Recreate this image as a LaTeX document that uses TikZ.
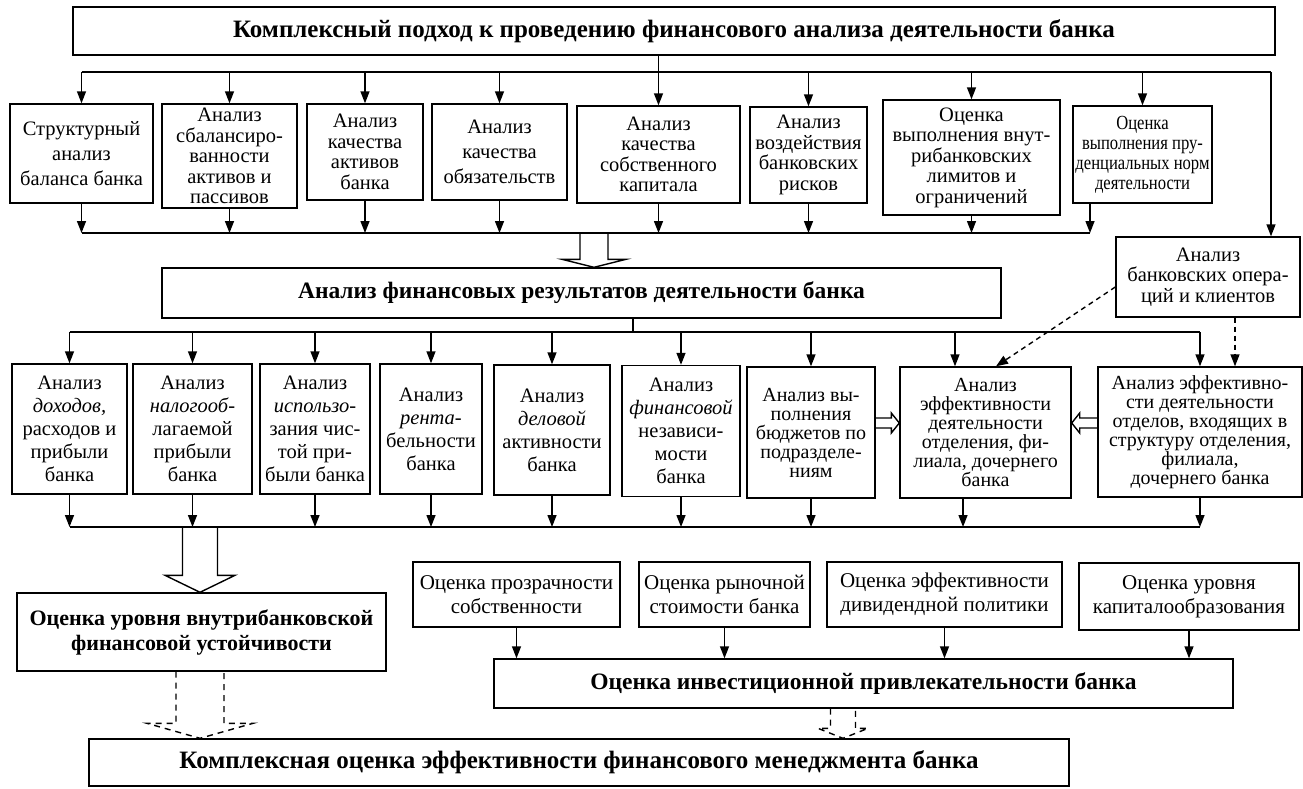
\documentclass[tikz,border=0pt]{standalone}
\usepackage{fontspec}
\setmainfont{Liberation Serif}
\newfontfamily\narrowserif[FakeStretch=0.83]{Liberation Serif}
\usetikzlibrary{arrows.meta, positioning, calc}

% hollow arrow pointing down: start, tip, shaft half width, head half width, head length
\newcommand{\fatdown}[6][]{%
  \draw[#1] ($(#2)+(-#4,0)$) -- ($(#3)+(-#4,-#6)$) -- ($(#3)+(-#5,-#6)$) -- (#3)
    -- ($(#3)+(#5,-#6)$) -- ($(#3)+(#4,-#6)$) -- ($(#2)+(#4,0)$);}
% hollow arrow sideways: start, tip, shaft half height, head half height, head base offset
\newcommand{\fatside}[6][]{%
  \draw[#1] ($(#2)+(0,-#4)$) -- ($(#3)+(#6,-#4)$) -- ($(#3)+(#6,-#5)$) -- (#3)
    -- ($(#3)+(#6,#5)$) -- ($(#3)+(#6,#4)$) -- ($(#2)+(0,#4)$);}

\begin{document}
\begin{tikzpicture}[x=1pt, y=-1pt,
  box/.style={draw, line width=1.4pt, align=center, inner sep=2pt,
    font=\fontsize{20.5}{20.5}\selectfont},
  loosebox/.style={box, font=\fontsize{20.5}{25}\selectfont},
  widebox/.style={box, font=\fontsize{20.5}{23}\selectfont},
  tightbox/.style={box, font=\fontsize{20}{19}\selectfont},
  lowbox/.style={box, font=\fontsize{21}{24}\selectfont},
  headbox/.style={box, font=\fontsize{23.5}{25}\selectfont\bfseries},
  link/.style={line width=1.4pt},
  arr/.style={line width=1.4pt, -{Triangle[length=12pt, width=9pt]}},
  dashlink/.style={arr, dash pattern=on 5pt off 4pt},
  fat/.style={line width=1.4pt},
  fatdash/.style={fat, dash pattern=on 6pt off 5pt}]

\useasboundingbox (0,0) rectangle (1303,788);

% Title box
\node[headbox, font=\fontsize{25}{27}\selectfont\bfseries, minimum width=1202, minimum height=48] (top) at (674,31)
  {Комплексный подход к проведению финансового анализа деятельности банка};

% First row of analyses
\node[loosebox, minimum width=143, minimum height=99] (s1) at (81.5,153.5)
  {Структурный\\анализ\\баланса банка};
\node[box, minimum width=135, minimum height=104] (s2) at (229.5,156)
  {Анализ\\сбалансиро-\\ванности\\активов и\\пассивов};
\node[box, minimum width=116, minimum height=96] (s3) at (365,152)
  {Анализ\\качества\\активов\\банка};
\node[loosebox, minimum width=135, minimum height=96] (s4) at (499.5,152)
  {Анализ\\качества\\обязательств};
\node[box, minimum width=163, minimum height=97] (s5) at (658.5,154.5)
  {Анализ\\качества\\собственного\\капитала};
\node[box, minimum width=117, minimum height=96] (s6) at (808.5,155)
  {Анализ\\воздействия\\банковских\\рисков};
\node[box, minimum width=177, minimum height=115] (s7) at (971.5,157.5)
  {Оценка\\выполнения внут-\\рибанковских\\лимитов и\\ограничений};
\node[box, font=\narrowserif\fontsize{20}{20}\selectfont, inner sep=1pt, minimum width=139, minimum height=97] (s8) at (1142.5,154.5)
  {Оценка\\выполнения пру-\\денциальных норм\\деятельности};

\node[box, minimum width=184, minimum height=80] (bank) at (1208,277)
  {Анализ\\банковских опера-\\ций и клиентов};

% Financial results
\node[headbox, minimum width=839, minimum height=50] (fin) at (581.5,293)
  {Анализ финансовых результатов деятельности банка};

% Second row of analyses
\node[widebox, minimum width=115, minimum height=130] (a1) at (69.5,429)
  {Анализ\\\textit{доходов,}\\расходов и\\прибыли\\банка};
\node[widebox, minimum width=119, minimum height=130] (a2) at (192.5,429)
  {Анализ\\\textit{налогооб-}\\лагаемой\\прибыли\\банка};
\node[widebox, minimum width=110, minimum height=130] (a3) at (315,429)
  {Анализ\\\textit{использо-}\\зания чис-\\той при-\\были банка};
\node[widebox, minimum width=102, minimum height=130] (a4) at (431,429)
  {Анализ\\\textit{рента-}\\бельности\\банка};
\node[widebox, minimum width=116, minimum height=130] (a5) at (552,430)
  {Анализ\\\textit{деловой}\\активности\\банка};
\node[widebox, minimum width=118, minimum height=131] (a6) at (681,431)
  {Анализ\\\textit{финансовой}\\независи-\\мости\\банка};
\node[tightbox, minimum width=128, minimum height=131] (a7) at (811,432.5)
  {Анализ вы-\\полнения\\бюджетов по\\подразделе-\\ниям};
\node[tightbox, minimum width=171, minimum height=131] (a8) at (985.5,432.5)
  {Анализ\\эффективности\\деятельности\\отделения, фи-\\лиала, дочернего\\банка};
\node[tightbox, minimum width=204, minimum height=130] (a9) at (1200,432)
  {Анализ эффективно-\\сти деятельности\\отделов, входящих в\\структуру отделения,\\филиала,\\дочернего банка};

% Stability, investment and final assessment
\node[headbox, font=\fontsize{22}{25}\selectfont\bfseries, minimum width=369, minimum height=78] (stab) at (201.5,632)
  {Оценка уровня внутрибанковской\\финансовой устойчивости};
\node[lowbox, minimum width=207, minimum height=65] (r1) at (516.5,594.5)
  {Оценка прозрачности\\собственности};
\node[lowbox, minimum width=171, minimum height=65] (r2) at (724.5,594.5)
  {Оценка рыночной\\стоимости банка};
\node[lowbox, minimum width=235, minimum height=65] (r3) at (944.5,594.5)
  {Оценка эффективности\\дивидендной политики};
\node[lowbox, minimum width=220, minimum height=67] (r4) at (1189,596.5)
  {Оценка уровня\\капиталообразования};
\node[headbox, minimum width=739, minimum height=49] (invest) at (863.5,683.5)
  {Оценка инвестиционной привлекательности банка};
\node[headbox, font=\fontsize{25}{27}\selectfont\bfseries, minimum width=980, minimum height=47] (final) at (579,762.5)
  {Комплексная оценка эффективности финансового менеджмента банка};

% bus levels and special drop points
\coordinate (busA) at (0,72);
\coordinate (busB) at (0,233);
\coordinate (busC) at (0,332);
\coordinate (busD) at (0,527);
\coordinate (busAe) at (1271,72);
\coordinate (s8foot) at (1090,0);
\coordinate (finstem) at (633,0);
\coordinate (a8top) at (955,0);
\coordinate (a8foot) at (963,0);
\coordinate (a8dash) at (996,0);
\coordinate (a9dash) at (1235,0);
\coordinate (fa1) at (594,0);
\coordinate (fa2) at (200,0);
\coordinate (fa4) at (843,0);

% top bus
\draw[link] (top.south -| s5.north) -- (s5.north |- busA);
\draw[link] (s1.north |- busA) -- (busAe);
\draw[arr] (busAe) -- (busAe |- bank.north);
\foreach \i in {1,...,8}
  \draw[arr] (s\i.north |- busA) -- (s\i.north);

% bus under first row
\draw[link] (s1.south |- busB) -- (s8foot |- busB);
\foreach \i in {1,...,7}
  \draw[arr] (s\i.south) -- (s\i.south |- busB);
\draw[arr] (s8foot |- s8.south) -- (s8foot |- busB);
\fatdown[fat]{fa1 |- busB}{fa1 |- fin.north}{14}{32}{8}

% bus over second row
\draw[link] (finstem |- fin.south) -- (finstem |- busC);
\draw[link] (a1.north |- busC) -- (a9.north |- busC);
\foreach \i in {1,...,7,9}
  \draw[arr] (a\i.north |- busC) -- (a\i.north);
\draw[arr] (a8top |- busC) -- (a8top |- a8.north);
\draw[dashlink] ($(bank.west)+(0,10)$) -- (a8dash |- a8.north);
\draw[dashlink] (a9dash |- bank.south) -- (a9dash |- a9.north);
\fatside[fat]{a7.east |- 0,423}{a8.west |- 0,423}{5}{10}{-8}
\fatside[fat]{a9.west |- 0,423}{a8.east |- 0,423}{5}{10}{8}

% bus under second row
\draw[link] (a1.south |- busD) -- (a9.south |- busD);
\foreach \i in {1,...,7,9}
  \draw[arr] (a\i.south) -- (a\i.south |- busD);
\draw[arr] (a8foot |- a8.south) -- (a8foot |- busD);
\fatdown[fat]{fa2 |- busD}{fa2 |- stab.north}{17.5}{35}{17}

% investment attractiveness
\foreach \i in {1,...,4}
  \draw[arr] (r\i.south) -- (r\i.south |- invest.north);

% to the final assessment
\fatdown[fatdash]{fa2 |- stab.south}{fa2 |- final.north}{24}{53}{15}
\fatdown[fatdash]{fa4 |- invest.south}{fa4 |- final.north}{12.5}{25}{10}

\end{tikzpicture}
\end{document}
